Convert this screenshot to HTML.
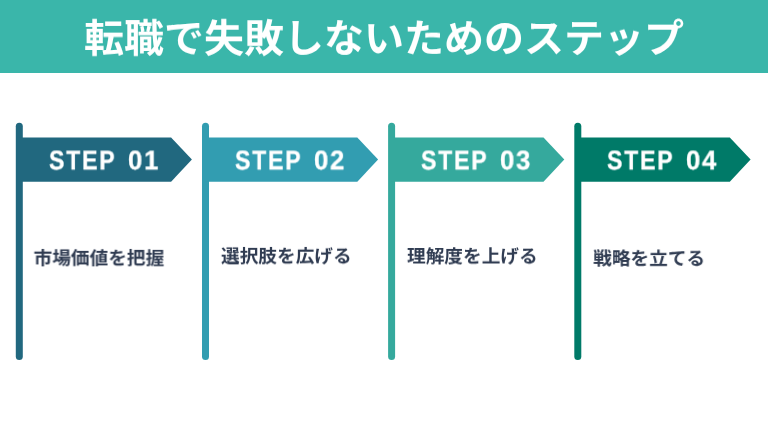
<!DOCTYPE html>
<html lang="ja">
<head>
<meta charset="utf-8">
<title>転職で失敗しないためのステップ</title>
<style>
html,body{margin:0;padding:0;background:#fff;}
body{width:768px;height:432px;position:relative;overflow:hidden;font-family:"Liberation Sans","Noto Sans CJK JP",sans-serif;}
.banner{position:absolute;left:0;top:0;width:768px;height:72.5px;background:#3ab6aa;}
.title{will-change:transform;position:absolute;left:0;top:2.2px;width:768px;height:72.5px;line-height:72.5px;transform:translateY(0.4px) scaleY(0.965);transform-origin:50% 50%;text-align:center;color:#fff;font-size:40px;font-weight:700;white-space:nowrap;}
svg.art{position:absolute;left:0;top:0;}
.step{will-change:transform;position:absolute;top:137.8px;height:44.3px;line-height:44.3px;color:#fff;font-weight:700;font-size:26.5px;white-space:pre;text-rendering:geometricPrecision;}
.step span{will-change:transform;-webkit-text-stroke:.3px #fff;position:absolute;top:0;left:0;display:block;transform-origin:0 50%;}
.step .a{letter-spacing:2.1px;transform:translateY(-.2px) scale(.87,1.02);}
.step .b{left:79.1px;letter-spacing:1.8px;transform:translateY(-.2px) scale(.97,1.02);}
.lbl{will-change:transform;transform-origin:0 0;position:absolute;color:#303c52;font-weight:700;font-size:18.67px;line-height:28px;white-space:nowrap;}
</style>
</head>
<body>
<div class="banner"></div>
<div class="title">転職で失敗しないためのステップ</div>
<svg class="art" width="768" height="432" viewBox="0 0 768 432">
  <g fill="#21687f"><rect x="15.8" y="122.75" width="7" height="237.2" rx="3.5"/><polygon points="19,137.5 171.1,137.5 191.9,159.6 171.1,181.75 19,181.75"/></g>
  <g fill="#329db1"><rect x="202" y="122.75" width="7" height="237.2" rx="3.5"/><polygon points="205,137.5 357.3,137.5 378.1,159.6 357.3,181.75 205,181.75"/></g>
  <g fill="#35a99d"><rect x="388.1" y="122.75" width="7" height="237.2" rx="3.5"/><polygon points="391,137.5 543.5,137.5 564.3,159.6 543.5,181.75 391,181.75"/></g>
  <g fill="#007a68"><rect x="574.3" y="122.75" width="7" height="237.2" rx="3.5"/><polygon points="577,137.5 729.8,137.5 750.6,159.6 729.8,181.75 577,181.75"/></g>
</svg>
<div class="step" style="left:48.9px"><span class="a">STEP</span> <span class="b">01</span></div>
<div class="step" style="left:235.1px"><span class="a">STEP</span> <span class="b">02</span></div>
<div class="step" style="left:421.3px"><span class="a">STEP</span> <span class="b">03</span></div>
<div class="step" style="left:607.2px"><span class="a">STEP</span> <span class="b">04</span></div>
<div class="lbl" style="left:33px;top:245px;transform:translate(.55px,0px) scaleY(.97)">市場価値を把握</div>
<div class="lbl" style="left:220px;top:243px;transform:translate(.95px,0px) scaleY(.97)">選択肢を広げる</div>
<div class="lbl" style="left:406px;top:243px;transform:translate(.95px,.1px) scaleY(.97)">理解度を上げる</div>
<div class="lbl" style="left:592px;top:245px;transform:translate(1.15px,.4px) scaleY(.97)">戦略を立てる</div>
</body>
</html>
